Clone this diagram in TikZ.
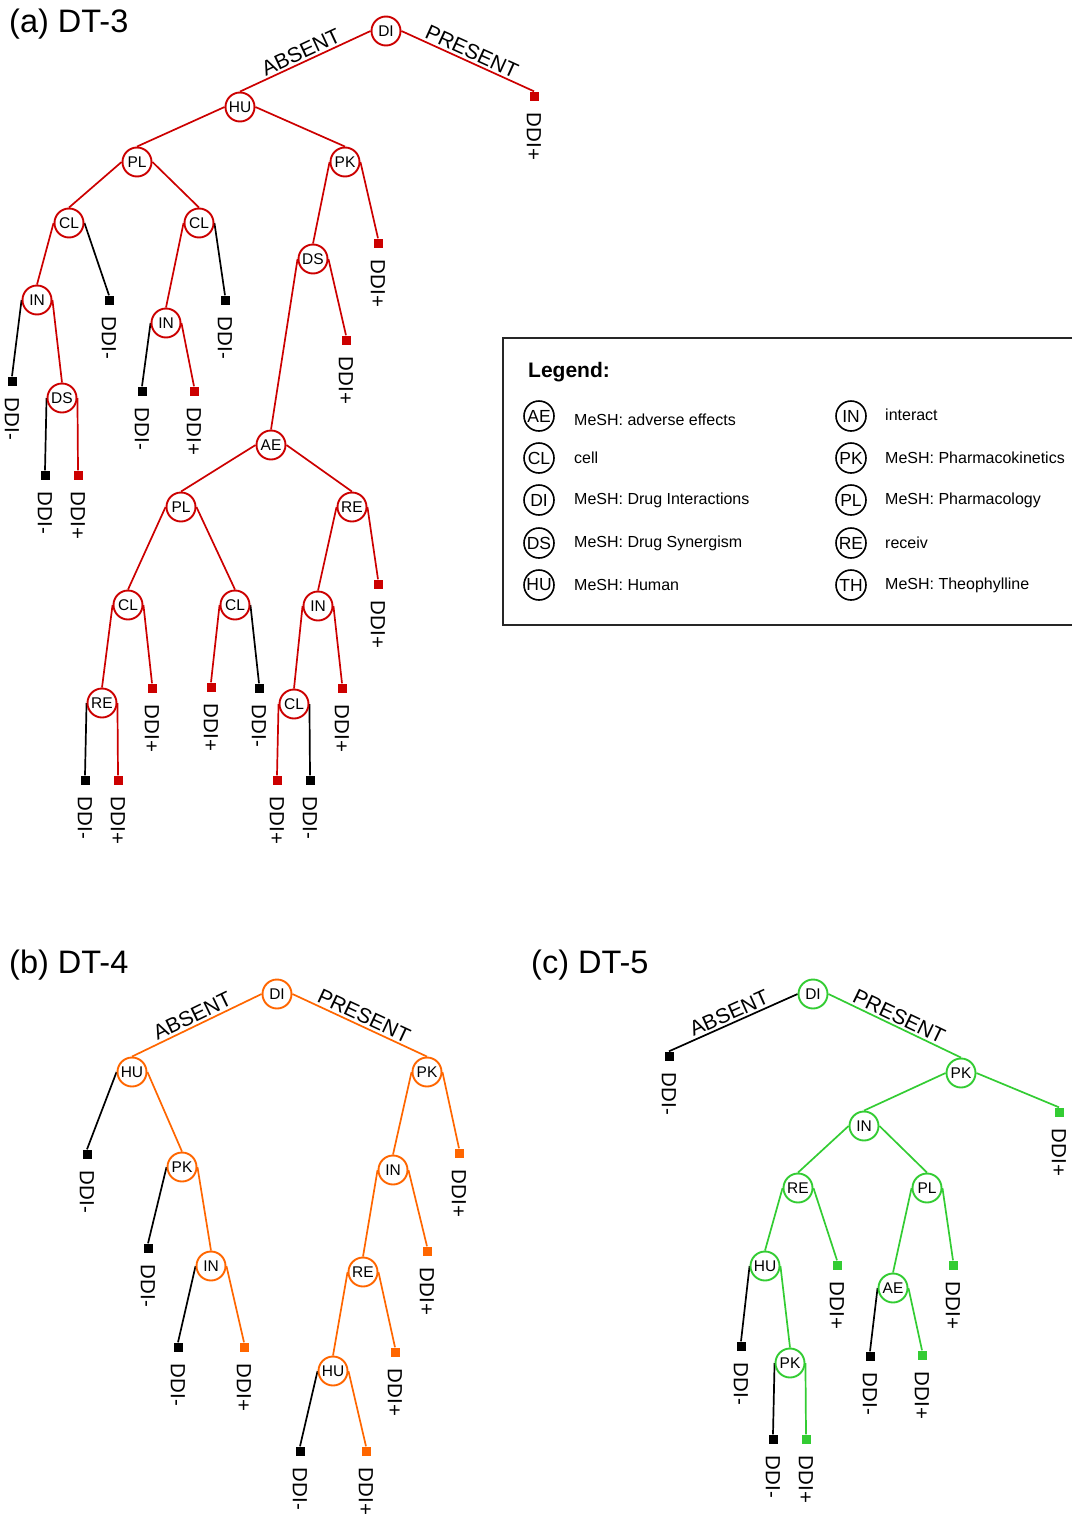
\documentclass[tikz,border=0pt]{standalone}
\usepackage{fontspec}
\setmainfont{Liberation Sans}
\usetikzlibrary{backgrounds}
\definecolor{dtred}{RGB}{204,0,0}
\definecolor{dtorange}{RGB}{255,102,0}
\definecolor{dtgreen}{RGB}{51,204,51}
\tikzset{
  dtnode/.style={circle, draw=#1, line width=1.9pt, fill=white, minimum size=29pt,
    inner sep=0pt, font=\fontsize{15.5}{16}\selectfont},
  leafbox/.style={rectangle, fill=#1, minimum size=9pt, inner sep=0pt},
  leaftext/.style={rotate=-90, anchor=west, inner sep=0pt, font=\fontsize{20.5}{21}\selectfont},
  dtedge/.style={draw=#1, line width=1.7pt},
  cond/.style={midway, above, sloped, inner sep=2pt, font=\fontsize{21}{22}\selectfont},
  dttitle/.style={anchor=base west, inner sep=0pt, font=\fontsize{32.5}{34}\selectfont},
  keycirc/.style={circle, draw=black, line width=1.6pt, fill=white, minimum size=30pt,
    inner sep=0pt, font=\fontsize{17.5}{18}\selectfont},
  keytext/.style={anchor=west, inner sep=0pt, font=\fontsize{16}{17}\selectfont},
}
% a leaf: square marker plus its rotated class label
\newcommand{\dtleaf}[4]{%
  \node[leafbox=#3] (#1) at (#2) {};
  \node[leaftext] (#1-t) at ([yshift=-16.5pt]#1.center) {#4};}
\begin{document}
\begin{tikzpicture}[x=1pt, y=-1pt]
\useasboundingbox (0,0) rectangle (1072,1515);

% ---------------- (a) DT-3 ----------------
\node[dttitle] (a-title) at (9,32) {(a) DT-3};
\node[dtnode=dtred] (a-di)  at (386,31)  {DI};
\node[dtnode=dtred] (a-hu)  at (240,107) {HU};
\node[dtnode=dtred] (a-pl)  at (137,162) {PL};
\node[dtnode=dtred] (a-pk)  at (345,162) {PK};
\node[dtnode=dtred] (a-cl1) at (69,223)  {CL};
\node[dtnode=dtred] (a-cl2) at (199,223) {CL};
\node[dtnode=dtred] (a-in1) at (37,300)  {IN};
\node[dtnode=dtred] (a-ds1) at (62,398)  {DS};
\node[dtnode=dtred] (a-in2) at (166,323) {IN};
\node[dtnode=dtred] (a-ds2) at (313,259) {DS};
\node[dtnode=dtred] (a-ae)  at (271,445) {AE};
\node[dtnode=dtred] (a-pl2) at (181,507) {PL};
\node[dtnode=dtred] (a-re1) at (352,507) {RE};
\node[dtnode=dtred] (a-cl3) at (128,605) {CL};
\node[dtnode=dtred] (a-cl4) at (235,605) {CL};
\node[dtnode=dtred] (a-re2) at (102,703) {RE};
\node[dtnode=dtred] (a-in3) at (318,606) {IN};
\node[dtnode=dtred] (a-cl5) at (294,704) {CL};
\dtleaf{a-l1}{534,96}{dtred}{DDI+}
\dtleaf{a-l2}{109,300}{black}{DDI-}
\dtleaf{a-l3}{12,381}{black}{DDI-}
\dtleaf{a-l4}{45,475}{black}{DDI-}
\dtleaf{a-l5}{78,475}{dtred}{DDI+}
\dtleaf{a-l6}{225,300}{black}{DDI-}
\dtleaf{a-l7}{142,391}{black}{DDI-}
\dtleaf{a-l8}{194,391}{dtred}{DDI+}
\dtleaf{a-l9}{378,243}{dtred}{DDI+}
\dtleaf{a-l10}{346,340}{dtred}{DDI+}
\dtleaf{a-l11}{152,688}{dtred}{DDI+}
\dtleaf{a-l12}{85,780}{black}{DDI-}
\dtleaf{a-l13}{118,780}{dtred}{DDI+}
\dtleaf{a-l14}{211,687}{dtred}{DDI+}
\dtleaf{a-l15}{259,688}{black}{DDI-}
\dtleaf{a-l16}{378,584}{dtred}{DDI+}
\dtleaf{a-l17}{342,688}{dtred}{DDI+}
\dtleaf{a-l18}{277,780}{dtred}{DDI+}
\dtleaf{a-l19}{310,780}{black}{DDI-}

% ---------------- (b) DT-4 ----------------
\node[dttitle] (b-title) at (9,973) {(b) DT-4};
\node[dtnode=dtorange] (b-di)  at (277,994)  {DI};
\node[dtnode=dtorange] (b-hu)  at (132,1072) {HU};
\node[dtnode=dtorange] (b-pk)  at (427,1072) {PK};
\node[dtnode=dtorange] (b-pk2) at (182,1167) {PK};
\node[dtnode=dtorange] (b-in)  at (211,1266) {IN};
\node[dtnode=dtorange] (b-in2) at (393,1170) {IN};
\node[dtnode=dtorange] (b-re)  at (363,1272) {RE};
\node[dtnode=dtorange] (b-hu2) at (333,1371) {HU};
\dtleaf{b-l1}{87,1154}{black}{DDI-}
\dtleaf{b-l2}{148,1248}{black}{DDI-}
\dtleaf{b-l3}{178,1347}{black}{DDI-}
\dtleaf{b-l4}{244,1347}{dtorange}{DDI+}
\dtleaf{b-l5}{459,1153}{dtorange}{DDI+}
\dtleaf{b-l6}{427,1251}{dtorange}{DDI+}
\dtleaf{b-l7}{395,1352}{dtorange}{DDI+}
\dtleaf{b-l8}{300,1451}{black}{DDI-}
\dtleaf{b-l9}{366,1451}{dtorange}{DDI+}

% ---------------- (c) DT-5 ----------------
\node[dttitle] (c-title) at (531,973) {(c) DT-5};
\node[dtnode=dtgreen] (c-di)  at (813,994)  {DI};
\node[dtnode=dtgreen] (c-pk)  at (961,1073) {PK};
\node[dtnode=dtgreen] (c-in)  at (864,1126) {IN};
\node[dtnode=dtgreen] (c-re)  at (798,1188) {RE};
\node[dtnode=dtgreen] (c-pl)  at (927,1188) {PL};
\node[dtnode=dtgreen] (c-hu)  at (765,1266) {HU};
\node[dtnode=dtgreen] (c-pk2) at (790,1363) {PK};
\node[dtnode=dtgreen] (c-ae)  at (893,1288) {AE};
\dtleaf{c-l1}{669,1056}{black}{DDI-}
\dtleaf{c-l2}{1059,1112}{dtgreen}{DDI+}
\dtleaf{c-l3}{837,1265}{dtgreen}{DDI+}
\dtleaf{c-l4}{741,1346}{black}{DDI-}
\dtleaf{c-l5}{773,1439}{black}{DDI-}
\dtleaf{c-l6}{806,1439}{dtgreen}{DDI+}
\dtleaf{c-l7}{953,1265}{dtgreen}{DDI+}
\dtleaf{c-l8}{870,1356}{black}{DDI-}
\dtleaf{c-l9}{922,1355}{dtgreen}{DDI+}

% ---------------- branches (behind the nodes) ----------------
\begin{scope}[on background layer]
% (a)
\draw[dtedge=dtred] (a-di.west) -- (a-hu.north) node[cond] (a-abs) {ABSENT};
\draw[dtedge=dtred] (a-di.east) -- (a-l1.north) node[cond] (a-pre) {PRESENT};
\draw[dtedge=dtred] (a-hu.west) -- (a-pl.north);
\draw[dtedge=dtred] (a-hu.east) -- (a-pk.north);
\draw[dtedge=dtred] (a-pl.west) -- (a-cl1.north);
\draw[dtedge=dtred] (a-pl.east) -- (a-cl2.north);
\draw[dtedge=dtred] (a-cl1.west) -- (a-in1.north);
\draw[dtedge=black] (a-cl1.east) -- (a-l2.north);
\draw[dtedge=black] (a-in1.west) -- (a-l3.north);
\draw[dtedge=dtred] (a-in1.east) -- (a-ds1.north);
\draw[dtedge=black] (a-ds1.west) -- (a-l4.north);
\draw[dtedge=dtred] (a-ds1.east) -- (a-l5.north);
\draw[dtedge=dtred] (a-cl2.west) -- (a-in2.north);
\draw[dtedge=black] (a-cl2.east) -- (a-l6.north);
\draw[dtedge=black] (a-in2.west) -- (a-l7.north);
\draw[dtedge=dtred] (a-in2.east) -- (a-l8.north);
\draw[dtedge=dtred] (a-pk.west) -- (a-ds2.north);
\draw[dtedge=dtred] (a-pk.east) -- (a-l9.north);
\draw[dtedge=dtred] (a-ds2.west) -- (a-ae.north);
\draw[dtedge=dtred] (a-ds2.east) -- (a-l10.north);
\draw[dtedge=dtred] (a-ae.west) -- (a-pl2.north);
\draw[dtedge=dtred] (a-ae.east) -- (a-re1.north);
\draw[dtedge=dtred] (a-pl2.west) -- (a-cl3.north);
\draw[dtedge=dtred] (a-pl2.east) -- (a-cl4.north);
\draw[dtedge=dtred] (a-cl3.west) -- (a-re2.north);
\draw[dtedge=dtred] (a-cl3.east) -- (a-l11.north);
\draw[dtedge=black] (a-re2.west) -- (a-l12.north);
\draw[dtedge=dtred] (a-re2.east) -- (a-l13.north);
\draw[dtedge=dtred] (a-cl4.west) -- (a-l14.north);
\draw[dtedge=black] (a-cl4.east) -- (a-l15.north);
\draw[dtedge=dtred] (a-re1.west) -- (a-in3.north);
\draw[dtedge=dtred] (a-re1.east) -- (a-l16.north);
\draw[dtedge=dtred] (a-in3.west) -- (a-cl5.north);
\draw[dtedge=dtred] (a-in3.east) -- (a-l17.north);
\draw[dtedge=dtred] (a-cl5.west) -- (a-l18.north);
\draw[dtedge=black] (a-cl5.east) -- (a-l19.north);
% (b)
\draw[dtedge=dtorange] (b-di.west) -- (b-hu.north) node[cond] (b-abs) {ABSENT};
\draw[dtedge=dtorange] (b-di.east) -- (b-pk.north) node[cond] (b-pre) {PRESENT};
\draw[dtedge=black]    (b-hu.west) -- (b-l1.north);
\draw[dtedge=dtorange] (b-hu.east) -- (b-pk2.north);
\draw[dtedge=black]    (b-pk2.west) -- (b-l2.north);
\draw[dtedge=dtorange] (b-pk2.east) -- (b-in.north);
\draw[dtedge=black]    (b-in.west) -- (b-l3.north);
\draw[dtedge=dtorange] (b-in.east) -- (b-l4.north);
\draw[dtedge=dtorange] (b-pk.west) -- (b-in2.north);
\draw[dtedge=dtorange] (b-pk.east) -- (b-l5.north);
\draw[dtedge=dtorange] (b-in2.west) -- (b-re.north);
\draw[dtedge=dtorange] (b-in2.east) -- (b-l6.north);
\draw[dtedge=dtorange] (b-re.west) -- (b-hu2.north);
\draw[dtedge=dtorange] (b-re.east) -- (b-l7.north);
\draw[dtedge=black]    (b-hu2.west) -- (b-l8.north);
\draw[dtedge=dtorange] (b-hu2.east) -- (b-l9.north);
% (c)
\draw[dtedge=black]   (c-di.west) -- (c-l1.north) node[cond] (c-abs) {ABSENT};
\draw[dtedge=dtgreen] (c-di.east) -- (c-pk.north) node[cond] (c-pre) {PRESENT};
\draw[dtedge=dtgreen] (c-pk.west) -- (c-in.north);
\draw[dtedge=dtgreen] (c-pk.east) -- (c-l2.north);
\draw[dtedge=dtgreen] (c-in.west) -- (c-re.north);
\draw[dtedge=dtgreen] (c-in.east) -- (c-pl.north);
\draw[dtedge=dtgreen] (c-re.west) -- (c-hu.north);
\draw[dtedge=dtgreen] (c-re.east) -- (c-l3.north);
\draw[dtedge=black]   (c-hu.west) -- (c-l4.north);
\draw[dtedge=dtgreen] (c-hu.east) -- (c-pk2.north);
\draw[dtedge=black]   (c-pk2.west) -- (c-l5.north);
\draw[dtedge=dtgreen] (c-pk2.east) -- (c-l6.north);
\draw[dtedge=dtgreen] (c-pl.west) -- (c-ae.north);
\draw[dtedge=dtgreen] (c-pl.east) -- (c-l7.north);
\draw[dtedge=black]   (c-ae.west) -- (c-l8.north);
\draw[dtedge=dtgreen] (c-ae.east) -- (c-l9.north);
\end{scope}

% ---------------- legend ----------------
\draw[line width=2pt, draw=black!85] (1072,338) -- (503,338) -- (503,625) -- (1072,625);
\node[anchor=west, inner sep=0pt, font=\fontsize{21}{22}\selectfont\bfseries] (key-head) at (528,372) {Legend:};
\node[keycirc] (key-ae) at (539,416) {AE};
\node[keytext] (key-ae-t) at (574,420) {MeSH: adverse effects};
\node[keycirc] (key-cl) at (539,458) {CL};
\node[keytext] (key-cl-t) at (574,458) {cell};
\node[keycirc] (key-di) at (539,500) {DI};
\node[keytext] (key-di-t) at (574,500) {MeSH: Drug Interactions};
\node[keycirc] (key-ds) at (539,543) {DS};
\node[keytext] (key-ds-t) at (574,543) {MeSH: Drug Synergism};
\node[keycirc] (key-hu) at (539,585) {HU};
\node[keytext] (key-hu-t) at (574,585) {MeSH: Human};
\node[keycirc] (key-in) at (851,416) {IN};
\node[keytext] (key-in-t) at (885,415) {interact};
\node[keycirc] (key-pk) at (851,458) {PK};
\node[keytext] (key-pk-t) at (885,458) {MeSH: Pharmacokinetics};
\node[keycirc] (key-pl) at (851,500) {PL};
\node[keytext] (key-pl-t) at (885,500) {MeSH: Pharmacology};
\node[keycirc] (key-re) at (851,543) {RE};
\node[keytext] (key-re-t) at (885,543) {receiv};
\node[keycirc] (key-th) at (851,585) {TH};
\node[keytext] (key-th-t) at (885,585) {MeSH: Theophylline};
\end{tikzpicture}
\end{document}
